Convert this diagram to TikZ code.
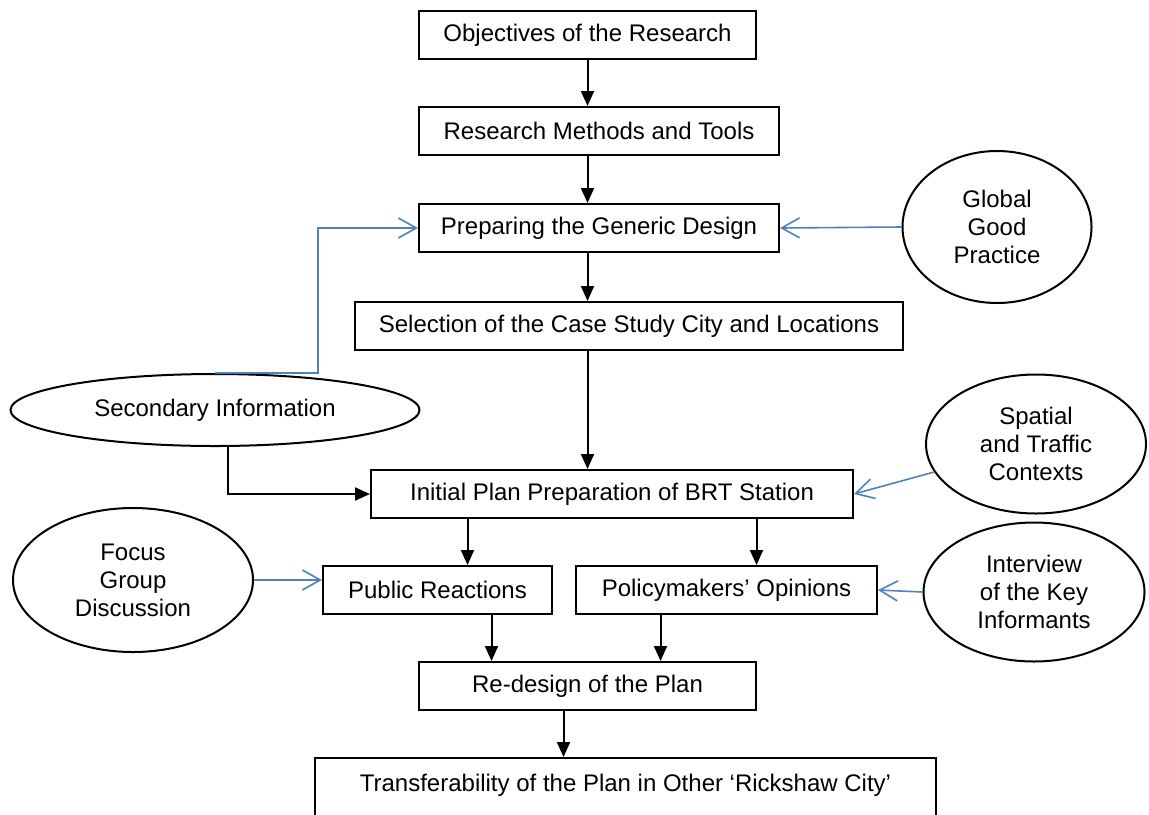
\documentclass[tikz,border=0pt]{standalone}
\usepackage{fontspec}
\setmainfont{Liberation Sans}
\usepackage{tikz}
\usetikzlibrary{shapes.geometric,arrows.meta}
\definecolor{linkblue}{HTML}{4F81BD}

\begin{document}
\begin{tikzpicture}[x=0.5pt, y=-0.5pt,
	stepbox/.style={draw, rectangle, line width=1pt, inner sep=0pt, minimum height=24pt, font=\fontsize{12}{14}\selectfont},
	source/.style={draw, ellipse, line width=1pt, inner sep=0pt, align=center, font=\fontsize{12}{14}\selectfont},
	flow/.style={-{Triangle[length=7.5pt,width=6.5pt]}, line width=1pt, black},
	feed/.style={-{Straight Barb[length=9pt,width=10pt]}, line width=0.8pt, linkblue}]
	\useasboundingbox (0,0) rectangle (1149,814);

	% main column
	\node [stepbox, minimum width=168.5pt] (obj) at (587.5,35) {Objectives of the Research};
	\node [stepbox, minimum width=180pt] (rm) at (599,131) {Research Methods and Tools};
	\node [stepbox, minimum width=180pt] (pg) at (599,228) {Preparing the Generic Design};
	\node [stepbox, minimum width=274pt] (sel) at (629,326) {Selection of the Case Study City and Locations};
	\node [stepbox, minimum width=241pt] (init) at (612,494) {Initial Plan Preparation of BRT Station};
	\node [stepbox, minimum width=114.5pt] (pub) at (437.5,590) {Public Reactions};
	\node [stepbox, minimum width=150.5pt] (pol) at (726.5,590) {Policymakers’ Opinions};
	\node [stepbox, minimum width=168.5pt] (red) at (587.5,686) {Re-design of the Plan};
	\node [stepbox, minimum width=310.5pt, minimum height=31pt] (trans) at (625.5,789) {\raisebox{6pt}{Transferability of the Plan in Other ‘Rickshaw City’}};

	% inputs
	\node [source, minimum width=204.5pt, minimum height=36pt] (sec) at (215,410) {Secondary Information};
	\node [source, minimum width=94.5pt, minimum height=76pt] (glob) at (997,227) {Global\\Good\\Practice};
	\node [source, minimum width=110pt, minimum height=69.5pt] (spat) at (1036,444) {Spatial\\and Traffic\\Contexts};
	\node [source, minimum width=120pt, minimum height=72pt] (foc) at (133,580) {Focus\\Group\\Discussion};
	\node [source, minimum width=110.5pt, minimum height=69.5pt] (int) at (1034,592) {Interview\\of the Key\\Informants};

	\draw [flow] (obj.south) -- (obj.south |- rm.north);
	\draw [flow] (obj.south |- rm.south) -- (obj.south |- pg.north);
	\draw [flow] (obj.south |- pg.south) -- (obj.south |- sel.north);
	\draw [flow] (obj.south |- sel.south) -- (obj.south |- init.north);
	\draw [flow] ([xshift=6.5pt] sec.south) |- (init.west);
	\draw [flow] ([xshift=15pt] pub.north |- init.south) -- ([xshift=15pt] pub.north);
	\draw [flow] ([xshift=15pt] pol.north |- init.south) -- ([xshift=15pt] pol.north);
	\draw [flow] ([xshift=27pt] pub.south) -- ([xshift=27pt] pub.south |- red.north);
	\draw [flow] ([xshift=-33pt] pol.south) -- ([xshift=-33pt] pol.south |- red.north);
	\draw [flow] ([xshift=-12pt] red.south) -- ([xshift=-12pt] red.south |- trans.north);

	\draw [feed] (sec.north) -- ++(103,0) |- (pg.west);
	\draw [feed] (glob.west) -- (pg.east);
	\draw [feed] (spat) -- (init.east);
	\draw [feed] (foc.east) -- (foc.east -| pub.west);
	\draw [feed] (int.west) -- (pol.east);
\end{tikzpicture}
\end{document}
